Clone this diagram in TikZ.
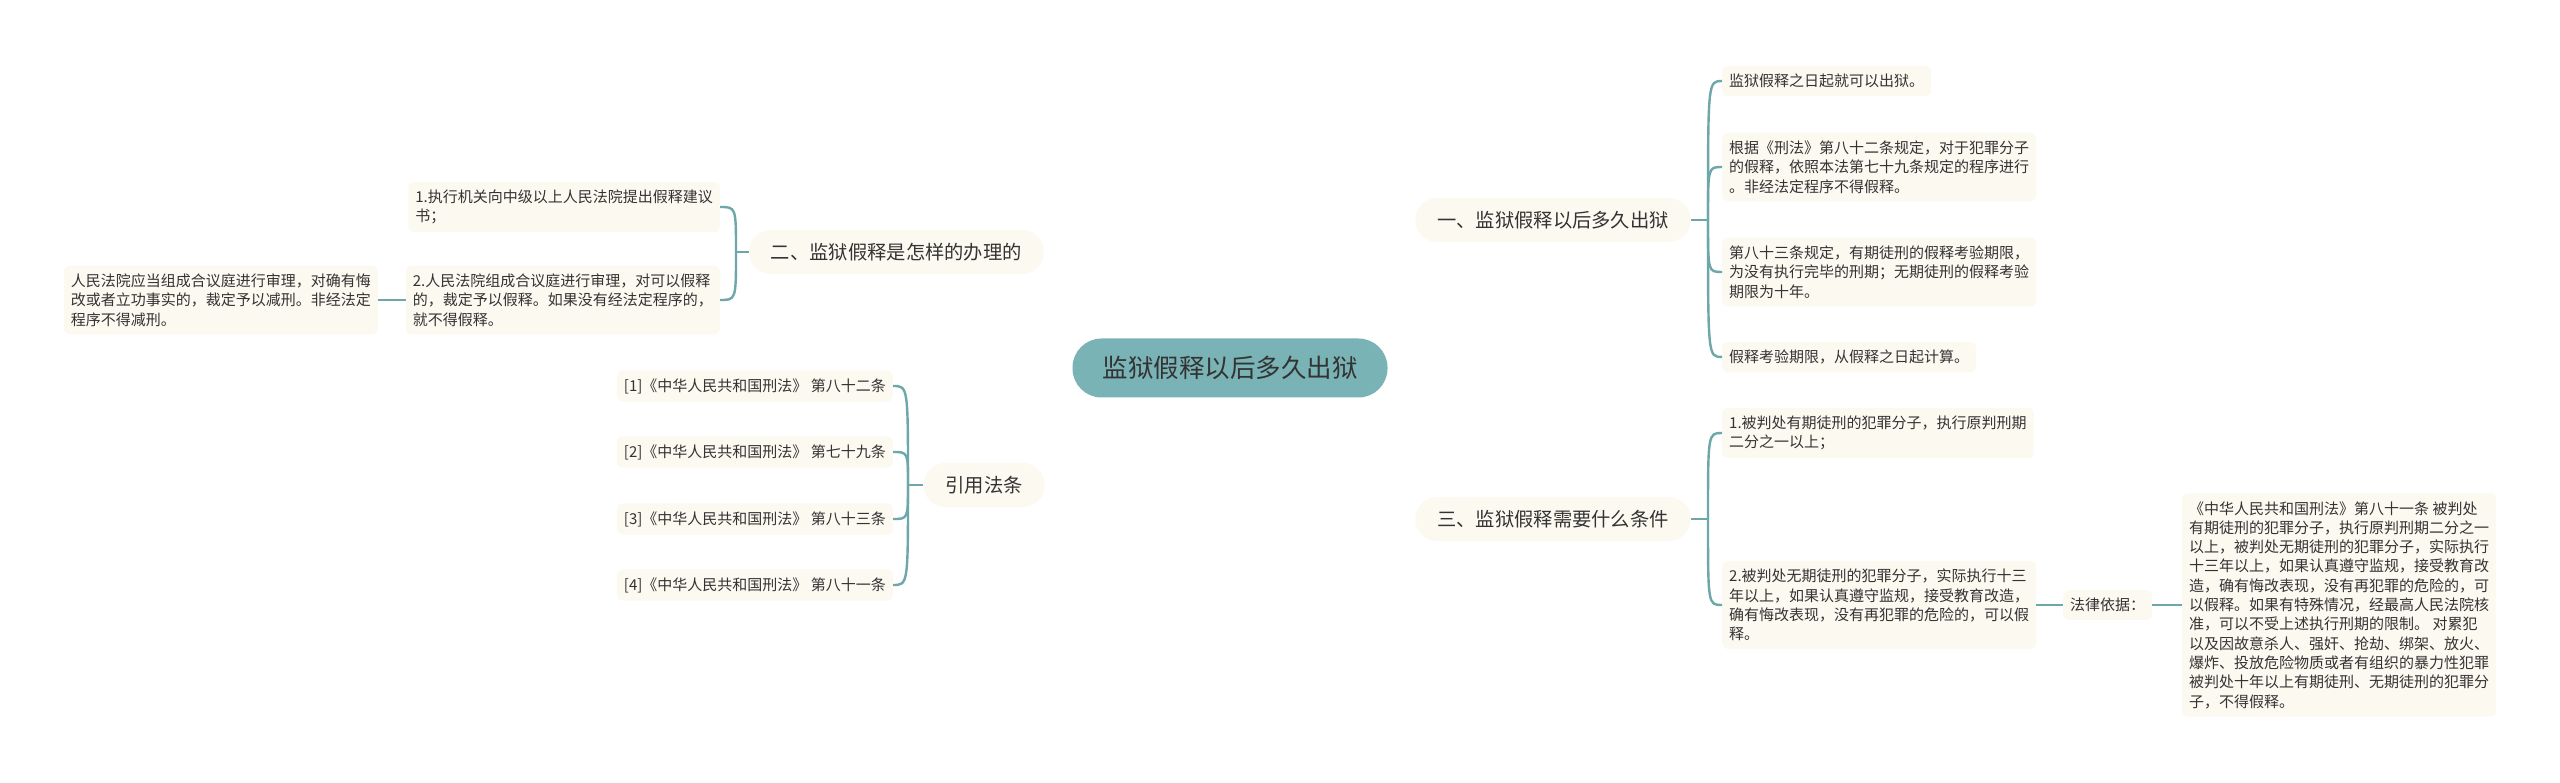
\documentclass[tikz,border=0pt]{standalone}
\usepackage{fontspec}
\setmainfont{Noto Sans CJK SC}
\usepackage{tikz}
\usetikzlibrary{backgrounds}
\definecolor{linecol}{RGB}{109,167,170}
\definecolor{hubfill}{RGB}{122,179,182}
\definecolor{leaffill}{RGB}{252,249,241}
\definecolor{inkcol}{RGB}{51,51,51}

\begin{document}
\begin{tikzpicture}[x=1pt,y=-1pt,
	hub/.style={fill=hubfill,text=inkcol,rounded corners=29pt,minimum height=59pt,inner xsep=30pt,font=\fontsize{25.5}{30}\selectfont},
	topic/.style={fill=leaffill,text=inkcol,rounded corners=22pt,minimum height=44pt,inner xsep=22pt,font=\fontsize{19.3}{24}\selectfont},
	leaf/.style={fill=leaffill,text=inkcol,rounded corners=6pt,inner xsep=7pt,inner ysep=8pt,align=left,font=\fontsize{15}{19.3}\selectfont},
	branchline/.style={draw=linecol,line width=2.4pt}]
	\useasboundingbox[fill=white] (0,0) rectangle (2560,783);

	\node[hub] (hub) at (1230,368) {监狱假释以后多久出狱};
	\node[topic,anchor=west] (b1) at (1415,220) {一、监狱假释以后多久出狱};
	\node[topic,anchor=east] (b2) at (1044,252) {二、监狱假释是怎样的办理的};
	\node[topic,anchor=west] (b3) at (1415,519) {三、监狱假释需要什么条件};
	\node[topic,anchor=east] (b4) at (1045,485) {引用法条};

	\node[leaf,anchor=west] (c1) at (1722,81) {监狱假释之日起就可以出狱。};
	\node[leaf,anchor=west] (c2) at (1722,167) {根据《刑法》第八十二条规定，对于犯罪分子\\的假释，依照本法第七十九条规定的程序进行\\。非经法定程序不得假释。};
	\node[leaf,anchor=west] (c3) at (1722,272) {第八十三条规定，有期徒刑的假释考验期限，\\为没有执行完毕的刑期；无期徒刑的假释考验\\期限为十年。};
	\node[leaf,anchor=west] (c4) at (1722,357) {假释考验期限，从假释之日起计算。};

	\node[leaf,anchor=west] (d1) at (1722,433) {1.被判处有期徒刑的犯罪分子，执行原判刑期\\二分之一以上；};
	\node[leaf,anchor=west] (d2) at (1722,605) {2.被判处无期徒刑的犯罪分子，实际执行十三\\年以上，如果认真遵守监规，接受教育改造，\\确有悔改表现，没有再犯罪的危险的，可以假\\释。};
	\node[leaf,anchor=west] (law) at (2063,605) {法律依据：};
	\node[leaf,anchor=west] (e1) at (2182,605) {《中华人民共和国刑法》第八十一条 被判处\\有期徒刑的犯罪分子，执行原判刑期二分之一\\以上，被判处无期徒刑的犯罪分子，实际执行\\十三年以上，如果认真遵守监规，接受教育改\\造，确有悔改表现，没有再犯罪的危险的，可\\以假释。如果有特殊情况，经最高人民法院核\\准，可以不受上述执行刑期的限制。 对累犯\\以及因故意杀人、强奸、抢劫、绑架、放火、\\爆炸、投放危险物质或者有组织的暴力性犯罪\\被判处十年以上有期徒刑、无期徒刑的犯罪分\\子，不得假释。};

	\node[leaf,anchor=east] (f1) at (720,207) {1.执行机关向中级以上人民法院提出假释建议\\书；};
	\node[leaf,anchor=east] (f2) at (720,300) {2.人民法院组成合议庭进行审理，对可以假释\\的，裁定予以假释。如果没有经法定程序的，\\就不得假释。};
	\node[leaf,anchor=east] (g1) at (378,300) {人民法院应当组成合议庭进行审理，对确有悔\\改或者立功事实的，裁定予以减刑。非经法定\\程序不得减刑。};

	\node[leaf,anchor=east] (r1) at (893,386) {[1]《中华人民共和国刑法》 第八十二条};
	\node[leaf,anchor=east] (r2) at (893,452) {[2]《中华人民共和国刑法》 第七十九条};
	\node[leaf,anchor=east] (r3) at (893,519) {[3]《中华人民共和国刑法》 第八十三条};
	\node[leaf,anchor=east] (r4) at (893,585) {[4]《中华人民共和国刑法》 第八十一条};

	\coordinate (j1) at (1708,220);
	\coordinate (j2) at (736,252);
	\coordinate (j3) at (1708,519);
	\coordinate (j4) at (908,485);

	\begin{scope}[on background layer]
	\draw[branchline] (hub.center) .. controls +(0,-108) and +(-85,0) .. (b1.west);
	\draw[branchline] (hub.center) .. controls +(0,-88) and +(97,0) .. (b2.east);
	\draw[branchline] (hub.center) .. controls +(0,92) and +(-95,0) .. (b3.west);
	\draw[branchline] (hub.center) .. controls +(0,92) and +(115,0) .. (b4.east);
	\end{scope}

	\draw[branchline] (b1.east) -- (j1);
	\foreach \n in {c1,c2,c3,c4}
		\draw[branchline] (j1) .. controls (j1 |- \n) .. (\n.west);
	\draw[branchline] (b3.east) -- (j3);
	\foreach \n in {d1,d2}
		\draw[branchline] (j3) .. controls (j3 |- \n) .. (\n.west);
	\draw[branchline] (d2.east) -- (law.west);
	\draw[branchline] (law.east) -- (e1.west);
	\draw[branchline] (b2.west) -- (j2);
	\foreach \n in {f1,f2}
		\draw[branchline] (j2) .. controls (j2 |- \n) .. (\n.east);
	\draw[branchline] (f2.west) -- (g1.east);
	\draw[branchline] (b4.west) -- (j4);
	\foreach \n in {r1,r2,r3,r4}
		\draw[branchline] (j4) .. controls (j4 |- \n) .. (\n.east);
\end{tikzpicture}
\end{document}
